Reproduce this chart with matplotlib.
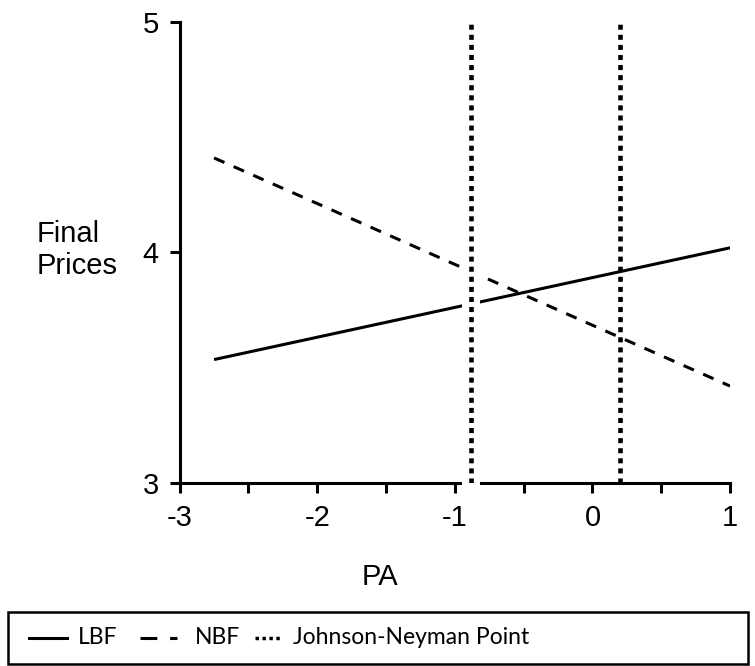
import matplotlib.pyplot as plt
from matplotlib.patches import Rectangle
from matplotlib.lines import Line2D
import numpy as np

plt.rcParams["axes.unicode_minus"] = False

# simple slopes of Final Prices on PA, two groups
pa_range = [-2.75, 1.0]
lbf_prices = [3.535, 4.02]
nbf_prices = [4.41, 3.42]
jn_points = [-0.88, 0.20]

fig = plt.figure(figsize=(7.55, 6.66), dpi=100)
ax = fig.add_axes([0.238, 0.275, 0.729, 0.692])

ax.plot(pa_range, lbf_prices, color="black", lw=2.2, solid_capstyle="butt", zorder=2)
ax.plot(pa_range, nbf_prices, color="black", lw=2.2, dashes=(3.7, 3.3),
        dash_capstyle="butt", zorder=2)

# white band behind the first Johnson-Neyman line
ax.axvline(jn_points[0], color="white", lw=13, zorder=3, clip_on=False,
           ymin=-0.01, ymax=1)
for x in jn_points:
    ax.axvline(x, color="black", lw=3.3, dashes=(1.1, 1.1), dash_capstyle="butt",
               zorder=4)

ax.set_xlim(-3, 1)
ax.set_ylim(3, 5)
ax.set_xticks([-3, -2, -1, 0, 1])
ax.set_xticks(np.arange(-2.5, 1, 1), minor=True)
ax.set_yticks([3, 4, 5])

for s in ["top", "right"]:
    ax.spines[s].set_visible(False)
for s in ["left", "bottom"]:
    ax.spines[s].set_linewidth(2.2)
ax.tick_params(axis="both", which="both", direction="out", length=7, width=2.2,
               labelsize=21, pad=8)
for lab in ax.get_xticklabels() + ax.get_yticklabels():
    lab.set_family("Liberation Sans")

fig.text(380 / 755, 1 - 577 / 666, "PA", ha="center", va="center",
         fontsize=21, family="Liberation Sans")
fig.text(37 / 755, 1 - 250 / 666, "Final\nPrices", ha="left", va="center",
         fontsize=21, family="Liberation Sans", linespacing=1.15)

# legend strip under the plot
W, H = 755, 666
ly = 1 - 638 / H
legend_font = {"family": "Lato", "size": 16.5}
fig.add_artist(Line2D([29 / W, 67 / W], [ly, ly], color="black", lw=2.2))
fig.text(78 / W, ly, "LBF", va="center", **legend_font)
fig.add_artist(Line2D([140 / W, 177 / W], [ly, ly], color="black", lw=2.2,
                      dashes=(5.5, 4.2), dash_capstyle="butt"))
fig.text(195 / W, ly, "NBF", va="center", **legend_font)
fig.add_artist(Line2D([255 / W, 281 / W], [ly, ly], color="black", lw=2.5,
                      dashes=(1, 1), dash_capstyle="butt"))
fig.text(293 / W, ly, "Johnson-Neyman Point", va="center", **legend_font)
fig.patches.append(Rectangle((8 / W, 1 - 664 / H), 740 / W, 52 / H,
                             transform=fig.transFigure, fill=False,
                             edgecolor="black", lw=1.8))

fig.savefig("out.png", dpi=100)
